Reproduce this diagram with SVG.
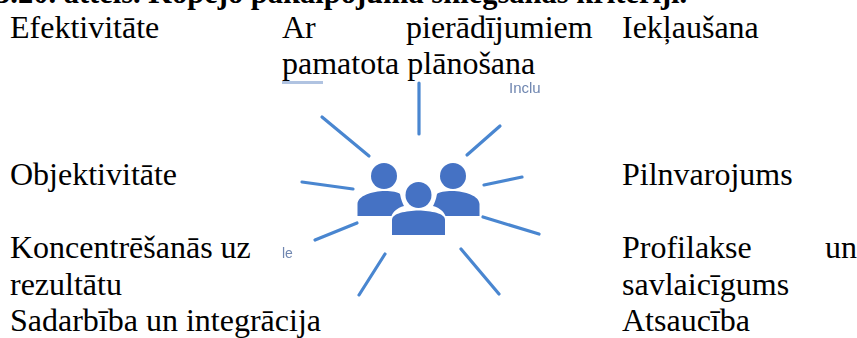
<svg xmlns="http://www.w3.org/2000/svg" width="857" height="338" viewBox="0 0 857 338">
<defs><filter id="soft" x="-5%" y="-5%" width="110%" height="110%"><feGaussianBlur stdDeviation="0.6"/></filter></defs>
<style>
text{font-family:"Liberation Serif","Times New Roman",serif;font-size:32px;fill:#000}
.t{font-weight:bold;font-size:30.5px}
.r{stroke:#4a86d0;stroke-width:3.2;stroke-linecap:round;fill:none}
.p{fill:#4472c4}
.f{font-family:"Liberation Sans",Arial,sans-serif;font-size:15px;fill:#6f86b0}
</style>
<rect width="857" height="338" fill="#fff"/>
<text class="t" x="-5" y="3">3.20. attēls. Kopējo pakalpojuma sniegšanas kritēriji.</text>
<text x="10" y="38">Efektivitāte</text>
<text x="282" y="38">Ar</text>
<text x="406" y="38">pierādījumiem</text>
<text x="622" y="38">Iekļaušana</text>
<text x="282" y="74">pamatota plānošana</text>
<text x="10" y="185">Objektivitāte</text>
<text x="622" y="185">Pilnvarojums</text>
<text x="10" y="258">Koncentrēšanās uz</text>
<text x="622" y="258">Profilakse</text>
<text x="825" y="258">un</text>
<text x="10" y="295">rezultātu</text>
<text x="622" y="295">savlaicīgums</text>
<text x="10" y="331">Sadarbība un integrācija</text>
<text x="622" y="331">Atsaucība</text>
<g id="fragments" filter="url(#soft)">
<rect x="282" y="81" width="41" height="3" fill="#8fa9d4" opacity="0.7"/>
<text class="f" x="509" y="93">Inclu</text>
<text class="f" style="font-size:14px" x="282" y="258">le</text>
</g>
<g id="rays" filter="url(#soft)">
<path class="r" d="M419 83V134"/>
<path class="r" d="M322 117L369 156"/>
<path class="r" d="M500 126L467 155"/>
<path class="r" d="M302 182L353 189"/>
<path class="r" d="M522 177L484 185"/>
<path class="r" d="M315 240L357 223"/>
<path class="r" d="M483 217L539 234"/>
<path class="r" d="M385 254L359 295"/>
<path class="r" d="M461 249L499 294"/>
</g>
<g id="people" filter="url(#soft)">
<circle class="p" cx="384" cy="176" r="13"/>
<circle class="p" cx="453" cy="176" r="13"/>
<circle class="p" cx="418.500" cy="195" r="13"/>
<path class="p" d="M357.500 216V204C357.500 196 372 191 385 191C392 191 398 192 400 194C401 200 403 204 404 206C397 208 393 212 391.500 216Z"/>
<path class="p" d="M479.500 216V204C479.500 196 465 191 452 191C445 191 439 192 437 194C436 200 434 204 433 206C440 208 444 212 445.500 216Z"/>
<path class="p" d="M392 235V220C392 213 406 211 418.500 210.500C431 211 445 213 445 220V235Z"/>
</g>
</svg>
